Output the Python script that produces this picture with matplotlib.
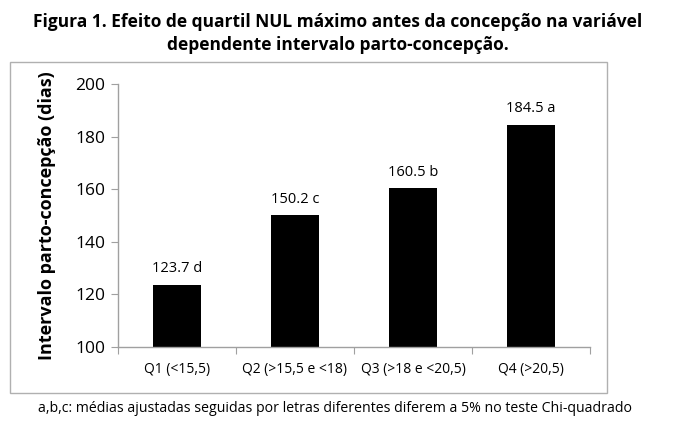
import matplotlib
matplotlib.use("Agg")
import matplotlib.pyplot as plt
from matplotlib.patches import Rectangle

categories = ["Q1 (<15,5)", "Q2 (>15,5 e <18)", "Q3 (>18 e <20,5)", "Q4 (>20,5)"]
values = [123.7, 150.2, 160.5, 184.5]
letters = ["d", "c", "b", "a"]
yticks = [100, 120, 140, 160, 180, 200]

W, H = 679, 432
fig = plt.figure(figsize=(W/100, H/100), dpi=100)
plt.rcParams['font.family'] = ['Open Sans', 'DejaVu Sans']

# outer box
fig.patches.append(Rectangle((10/W, 1-393/H), (607-10)/W, (393-62)/H,
                             transform=fig.transFigure, fill=False,
                             edgecolor='#b0b0b0', linewidth=1.0))

ax = fig.add_axes([118/W, 1-347/H, (590-118)/W, (347-84)/H])
x = list(range(len(categories)))
ax.bar(x, values, width=0.41, color='black', bottom=0)
ax.set_xlim(-0.5, len(categories)-0.5)
ax.set_ylim(100, 200)
ax.set_yticks(yticks)
ax.set_yticklabels([str(t) for t in yticks], fontsize=12.5)
ax.set_xticks([i - 0.5 for i in range(len(categories)+1)], minor=False)
ax.set_xticklabels([])
ax.set_xticks(x, minor=True)
ax.set_xticklabels(categories, minor=True, fontsize=10)
ax.tick_params(axis='x', which='minor', length=0, pad=11)
ax.tick_params(axis='x', which='major', length=5, color='#a0a0a0', direction='out')
ax.tick_params(axis='y', length=5, color='#a0a0a0', direction='out', pad=4)
for s in ['top', 'right']:
    ax.spines[s].set_visible(False)
for s in ['left', 'bottom']:
    ax.spines[s].set_color('#a0a0a0')
    ax.spines[s].set_linewidth(1.0)

for xi, v, l in zip(x, values, letters):
    ax.annotate(f"{v} {l}", (xi, v), xytext=(0, 6), textcoords='offset points',
                ha='center', va='bottom', fontsize=10.5)

ax.set_ylabel("Intervalo parto-concepção (dias)", fontsize=13, fontweight='bold', labelpad=14)

fig.text(338/W, 1-22/H, "Figura 1. Efeito de quartil NUL máximo antes da concepção na variável",
         ha='center', va='center', fontsize=12.5, fontweight='bold')
fig.text(338/W, 1-45/H, "dependente intervalo parto-concepção.",
         ha='center', va='center', fontsize=12.5, fontweight='bold')
fig.text(335/W, 1-409/H, "a,b,c: médias ajustadas seguidas por letras diferentes diferem a 5% no teste Chi-quadrado",
         ha='center', va='center', fontsize=10.2)

fig.savefig("out.png", dpi=100)
